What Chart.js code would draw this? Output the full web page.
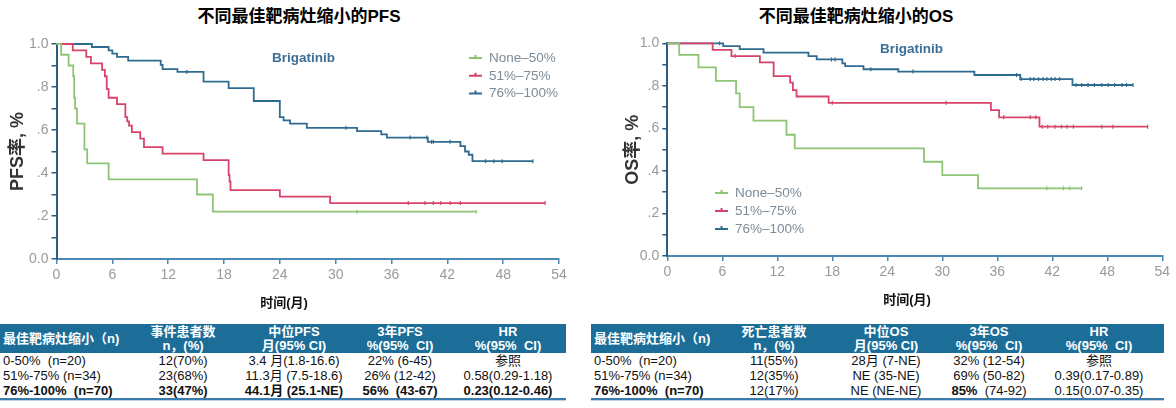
<!DOCTYPE html>
<html>
<head>
<meta charset="utf-8">
<script src="https://cdn.jsdelivr.net/npm/chart.js@4.4.1/dist/chart.umd.min.js"></script>
<style>
body { margin:0; width:1176px; height:408px; background:#fff; position:relative; overflow:hidden;
  font-family:"Liberation Sans","Noto Sans CJK SC",sans-serif; }
.title { position:absolute; top:6px; font-weight:bold; font-size:17px; color:#000; white-space:nowrap;
  transform:translateX(-50%); line-height:22px; }
canvas { position:absolute; top:0; }
table { position:absolute; top:324px; border-collapse:collapse; table-layout:fixed; font-size:13px; color:#111;
  border-bottom:2px solid #3a7bab; box-shadow:0 1px 0 #c3d2de; }
th { background:#1c6e98; color:#fff; font-weight:bold; line-height:14px; height:29px; padding:0; text-align:center; white-space:nowrap; }
td { line-height:15px; height:15px; padding:0; text-align:center; white-space:nowrap; }
th:first-child, td:first-child { text-align:left; padding-left:3px; }
</style>
</head>
<body>
<div class="title" style="left:299px">不同最佳靶病灶缩小的PFS</div>
<div class="title" style="left:856px">不同最佳靶病灶缩小的OS</div>
<canvas id="pfs" width="588" height="318" style="left:0"></canvas>
<canvas id="os" width="588" height="318" style="left:588px"></canvas>
<script>
// ---- data (months, survival) ----
var groupNames = ['None\u201350%', '51%\u201375%', '76%\u2013100%'];

var pfsLowT  = [0, 0.5, 1.3, 1.8, 1.9, 2.0, 2.2, 3.0, 3.3, 5.6, 15.1, 16.8, 45.1];
var pfsLowV  = [1, 0.95, 0.90, 0.85, 0.75, 0.70, 0.63, 0.51, 0.445, 0.37, 0.30, 0.22, 0.22];
var pfsLowC  = [32.3, 45.1];
var pfsMidT  = [0, 1.75, 3.2, 3.7, 4.9, 5.2, 5.4, 5.6, 6.5, 7.4, 7.6, 7.8, 8.1, 9.0, 9.4, 11.4, 15.8, 18.5, 18.6, 18.7, 24.0, 29.4, 52.5];
var pfsMidV  = [1, 0.97, 0.94, 0.91, 0.88, 0.85, 0.79, 0.75, 0.72, 0.66, 0.64, 0.62, 0.59, 0.56, 0.52, 0.49, 0.46, 0.39, 0.36, 0.32, 0.29, 0.26, 0.26];
var pfsMidC  = [37.8, 39.6, 40.5, 41.3, 42.3, 43.4, 52.5];
var pfsHighT = [0, 3.8, 5.6, 6.0, 6.5, 7.7, 11.2, 11.4, 13.0, 15.8, 18.5, 21.2, 24.0, 24.4, 25.1, 26.9, 32.3, 34.9, 35.5, 39.9, 43.4, 43.9, 44.3, 44.7, 51.2];
var pfsHighV = [1, 0.986, 0.97, 0.955, 0.94, 0.923, 0.903, 0.883, 0.87, 0.825, 0.795, 0.735, 0.66, 0.645, 0.63, 0.61, 0.595, 0.58, 0.565, 0.545, 0.525, 0.50, 0.485, 0.455, 0.455];
var pfsHighC = [14.0, 31.1, 38.0, 39.8, 40.3, 40.5, 42.3, 46.1, 47.0, 47.9, 51.2];

var osLowT  = [0, 1.3, 3.4, 5.3, 7.5, 7.9, 9.4, 13.0, 13.9, 28.0, 30.0, 33.9, 45.2];
var osLowV  = [1, 0.946, 0.887, 0.823, 0.765, 0.70, 0.636, 0.57, 0.506, 0.443, 0.38, 0.318, 0.318];
var osLowC  = [41.4, 43.2, 43.9, 45.2];
var osMidT  = [0, 4.95, 7.0, 10.1, 11.6, 13.4, 13.7, 14.1, 17.6, 35.3, 36.2, 40.6, 52.4];
var osMidV  = [1, 0.969, 0.94, 0.91, 0.846, 0.815, 0.78, 0.75, 0.72, 0.686, 0.652, 0.608, 0.608];
var osMidC  = [7.4, 18.0, 30.4, 36.7, 39.6, 40.2, 40.9, 41.5, 42.3, 43.0, 43.6, 44.3, 47.4, 48.6, 52.4];
var osHighT = [0, 6.1, 7.9, 10.5, 15.4, 16.3, 19.1, 19.4, 21.4, 25.2, 33.5, 38.5, 44.2, 50.8];
var osHighV = [1, 0.987, 0.973, 0.956, 0.94, 0.924, 0.906, 0.893, 0.878, 0.867, 0.851, 0.832, 0.804, 0.804];
var osHighC = [5.7, 17.9, 18.3, 22.2, 26.8, 38.1, 38.6, 39.6, 40.0, 40.5, 41.0, 41.4, 41.9, 42.3, 42.8, 44.6, 45.2, 45.9, 46.6, 47.4, 48.1, 48.8, 49.6, 50.1, 50.8];

var yTickValues = [0, 0.2, 0.4, 0.6, 0.8, 1.0];
var yTickLabels = ['0.0', '.2', '.4', '.6', '.8', '1.0'];

// ---- table contents ----
var tableHead1 = ['最佳靶病灶缩小（n)', '事件患者数<br>n，(%)', '中位PFS<br>月(95% CI)', '3年PFS<br>%(95%&nbsp; CI)', 'HR<br>%(95%&nbsp; CI)'];
var tableRows1 = [
  ['0-50%&nbsp; (n=20)', '12(70%)', '3.4 月(1.8-16.6)', '22% (6-45)', '参照'],
  ['51%-75% (n=34)', '23(68%)', '11.3月 (7.5-18.6)', '26% (12-42)', '0.58(0.29-1.18)'],
  ['<b>76%-100%&nbsp; (n=70)</b>', '<b>33(47%)</b>', '<b>44.1月 (25.1-NE)</b>', '<b>56%&nbsp; (43-67)</b>', '<b>0.23(0.12-0.46)</b>']
];
var tableHead2 = ['最佳靶病灶缩小（n)', '死亡患者数<br>n，(%)', '中位OS<br>月(95% CI)', '3年OS<br>%(95%&nbsp; CI)', 'HR<br>%(95%&nbsp; CI)'];
var tableRows2 = [
  ['0-50%&nbsp; (n=20)', '11(55%)', '28月 (7-NE)', '32% (12-54)', '参照'],
  ['51%-75% (n=34)', '12(35%)', 'NE (35-NE)', '69% (50-82)', '0.39(0.17-0.89)'],
  ['<b>76%-100%&nbsp; (n=70)</b>', '12(17%)', 'NE (NE-NE)', '<b>85%</b>&nbsp; (74-92)', '0.15(0.07-0.35)']
];

var colors = ['#8dc575', '#d6446a', '#2f6b90'];

function stepValue(T, V, t) {
  var v = V[0];
  for (var i = 0; i < T.length; i++) {
    if (T[i] <= t) v = V[i];
  }
  return v;
}

function toPoints(T, V) {
  var pts = [];
  for (var i = 0; i < T.length; i++) pts.push({x: T[i], y: V[i]});
  return pts;
}

function censorPoints(T, V, C) {
  var pts = [];
  for (var i = 0; i < C.length; i++) pts.push({x: C[i], y: stepValue(T, V, C[i])});
  return pts;
}

const kmExtras = {
  id: 'kmExtras',
  afterDraw(chart, args, o) {
    const ctx = chart.ctx;
    ctx.save();
    ctx.textBaseline = 'middle';
    ctx.textAlign = 'left';
    ctx.font = 'bold 13.5px "Liberation Sans"';
    ctx.fillStyle = '#3d6f96';
    ctx.fillText('Brigatinib', o.brigX, o.brigY);
    ctx.font = '13.5px "Liberation Sans"';
    for (var i = 0; i < 3; i++) {
      var ds = chart.data.datasets[i];
      var y = o.legY + i * o.legGap;
      ctx.strokeStyle = ds.borderColor;
      ctx.lineWidth = 2;
      ctx.beginPath();
      ctx.moveTo(o.legX, y); ctx.lineTo(o.legX + 13, y);
      ctx.moveTo(o.legX + 6.5, y); ctx.lineTo(o.legX + 6.5, y - 3);
      ctx.stroke();
      ctx.fillStyle = '#7d8b97';
      ctx.fillText(ds.label, o.legX + 20, y);
    }
    ctx.font = 'bold 13px "Liberation Sans","Noto Sans CJK SC"';
    ctx.fillStyle = '#111';
    ctx.textAlign = 'center';
    ctx.fillText('时间(月)', o.xTitleX, o.xTitleY);
    ctx.restore();
  }
};

function makeChart(id, curves, yTitle, geo, extras) {
  var datasets = [];
  curves.forEach(function(c, i) {
    datasets.push({
      label: groupNames[i], data: toPoints(c[0], c[1]), stepped: true,
      borderColor: colors[i], borderWidth: 1.8, pointRadius: 0, fill: false, clip: false
    });
  });
  curves.forEach(function(c, i) {
    datasets.push({
      label: '', data: censorPoints(c[0], c[1], c[2]), showLine: false,
      borderColor: colors[i], backgroundColor: colors[i], pointStyle: 'line', rotation: 90,
      pointRadius: 2, borderWidth: 1.2, clip: false
    });
  });
  return new Chart(document.getElementById(id), {
    type: 'line',
    data: {datasets: datasets},
    options: {
      responsive: false, animation: false,
      layout: {padding: {top: geo.top, right: geo.right, left: 0, bottom: 0}},
      plugins: {legend: {display: false}, tooltip: {enabled: false}, kmExtras: extras},
      scales: {
        x: {
          type: 'linear', min: 0, max: 54,
          afterFit: function(s) { s.height = geo.xh; },
          ticks: {stepSize: 6, color: '#9a9a9a', font: {size: 14, family: 'Liberation Sans'}, padding: 3},
          grid: {drawOnChartArea: false, drawTicks: true, tickLength: 5, color: '#4a89b3', lineWidth: 1.5},
          border: {color: '#4a89b3', width: 2}
        },
        y: {
          min: 0, max: 1,
          afterFit: function(s) { s.width = geo.yw; },
          ticks: {
            stepSize: 0.1, autoSkip: false, color: '#9a9a9a', font: {size: 14, family: 'Liberation Sans'}, padding: 3,
            callback: function(v) {
              for (var i = 0; i < yTickValues.length; i++) {
                if (Math.abs(yTickValues[i] - v) < 1e-6) return yTickLabels[i];
              }
              return '';
            }
          },
          grid: {drawOnChartArea: false, drawTicks: true, tickLength: 5, color: '#2c5d7d', lineWidth: 1.5},
          border: {color: '#2c5d7d', width: 2},
          title: {display: true, text: yTitle, color: '#333',
            font: {size: 18, weight: 'bold', family: '"Liberation Sans","Noto Sans CJK SC"'},
            padding: {top: geo.ytp, bottom: 0}}
        }
      }
    },
    plugins: [kmExtras]
  });
}

makeChart('pfs',
  [[pfsLowT, pfsLowV, pfsLowC], [pfsMidT, pfsMidV, pfsMidC], [pfsHighT, pfsHighV, pfsHighC]],
  'PFS率, %',
  {top: 44, right: 29, xh: 59, yw: 56.5, ytp: 7},
  {brigX: 272, brigY: 58, legX: 469, legY: 58, legGap: 17.8, xTitleX: 284, xTitleY: 303});

makeChart('os',
  [[osLowT, osLowV, osLowC], [osMidT, osMidV, osMidC], [osHighT, osHighV, osHighC]],
  'OS率, %',
  {top: 43.3, right: 13.7, xh: 62, yw: 79.3, ytp: 34},
  {brigX: 292, brigY: 49, legX: 127, legY: 193, legGap: 18, xTitleX: 319, xTitleY: 300});

function buildTable(left, widths, head, rows) {
  var t = document.createElement('table');
  t.style.left = left + 'px';
  var w = 0;
  widths.forEach(function(x) { w += x; });
  t.style.width = w + 'px';
  var html = '<colgroup>';
  widths.forEach(function(x) { html += '<col style="width:' + x + 'px">'; });
  html += '</colgroup><tr>';
  head.forEach(function(h) { html += '<th>' + h + '</th>'; });
  html += '</tr>';
  rows.forEach(function(r) {
    html += '<tr>';
    r.forEach(function(c) { html += '<td>' + c + '</td>'; });
    html += '</tr>';
  });
  t.innerHTML = html;
  document.body.appendChild(t);
}

buildTable(0, [128, 110, 112, 100, 116], tableHead1, tableRows1);
buildTable(591, [129, 108, 116, 90, 130], tableHead2, tableRows2);
</script>
</body>
</html>
